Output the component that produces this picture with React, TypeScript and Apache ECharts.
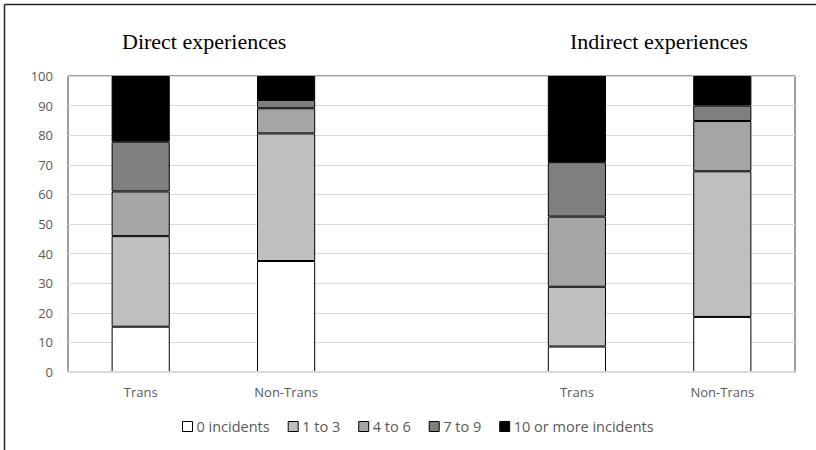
import React, { useEffect, useRef } from "react";
import * as echarts from "echarts";

const categories = ["Trans", "Non-Trans", "", "Trans", "Non-Trans"];
const seriesNames = ["0 incidents", "1 to 3", "4 to 6", "7 to 9", "10 or more incidents"];
const zeroIncidents = [15.3, 37.5, null, 8.6, 18.6];
const oneToThree = [30.6, 43.1, null, 20.2, 49.2];
const fourToSix = [15.1, 8.5, null, 23.7, 17.0];
const sevenToNine = [16.8, 2.8, null, 18.4, 5.2];
const tenOrMore = [22.2, 8.1, null, 29.1, 10.0];
const yTicks = { min: 0, max: 100, interval: 10 };
const groupTitles = ["Direct experiences", "Indirect experiences"];

const colors = ["#ffffff", "#bfbfbf", "#a5a5a5", "#7f7f7f", "#000000"];

export default function App() {
  const ref = useRef<HTMLDivElement>(null);
  useEffect(() => {
    if (!ref.current) return;
    const chart = echarts.init(ref.current, null, { renderer: "svg" });
    const data = [zeroIncidents, oneToThree, fourToSix, sevenToNine, tenOrMore];
    const font = "'Open Sans', 'Noto Sans', sans-serif";
    chart.setOption({
      animation: false,
      backgroundColor: "#ffffff",
      grid: {
        left: 68,
        right: 21,
        top: 76,
        bottom: 78,
        show: true,
        borderColor: "#404040",
        borderWidth: 1,
        z: 0,
      },
      legend: {
        bottom: 11,
        left: 177,
        itemWidth: 10,
        itemHeight: 10,
        itemGap: 18,
        icon: "rect",
        textStyle: { color: "#595959", fontSize: 14.5, fontFamily: font, padding: [0, 0, 0, -1] },
        data: seriesNames.map((n, i) => ({
          name: n,
          itemStyle: { color: colors[i], borderColor: "#000", borderWidth: 1 },
        })),
      },
      graphic: [
        { type: "line", shape: { x1: 4.5, y1: 4.5, x2: 816, y2: 4.5 }, style: { stroke: "#222", lineWidth: 1.5 } },
        { type: "line", shape: { x1: 4.5, y1: 4.5, x2: 4.5, y2: 450 }, style: { stroke: "#222", lineWidth: 1.5 } },
        {
          type: "text",
          left: 122,
          top: 30,
          style: { text: groupTitles[0], font: "22px 'Liberation Serif', 'Times New Roman', serif", fill: "#000" },
        },
        {
          type: "text",
          left: 570,
          top: 30,
          style: { text: groupTitles[1], font: "22px 'Liberation Serif', 'Times New Roman', serif", fill: "#000" },
        },
      ],
      xAxis: {
        type: "category",
        data: categories,
        axisLine: { show: true, lineStyle: { color: "#d9d9d9", width: 2 } },
        axisTick: { show: false },
        axisLabel: { color: "#595959", fontSize: 13, fontFamily: font, margin: 13 },
        z: 5,
      },
      yAxis: {
        type: "value",
        min: yTicks.min,
        max: yTicks.max,
        interval: yTicks.interval,
        axisLine: { show: false },
        axisTick: { show: false },
        axisLabel: { color: "#595959", fontSize: 13, fontFamily: font, margin: 15 },
        splitLine: { show: true, lineStyle: { color: "#d9d9d9", width: 1 } },
      },
      series: seriesNames.map((n, i) => ({
        name: n,
        type: "bar",
        stack: "total",
        barWidth: "40%",
        data: data[i],
        itemStyle: { color: colors[i], borderColor: "#000", borderWidth: 1 },
      })),
    });
    return () => chart.dispose();
  }, []);
  return <div ref={ref} style={{ position: "fixed", left: 0, top: 0, width: 816, height: 450 }} />;
}
